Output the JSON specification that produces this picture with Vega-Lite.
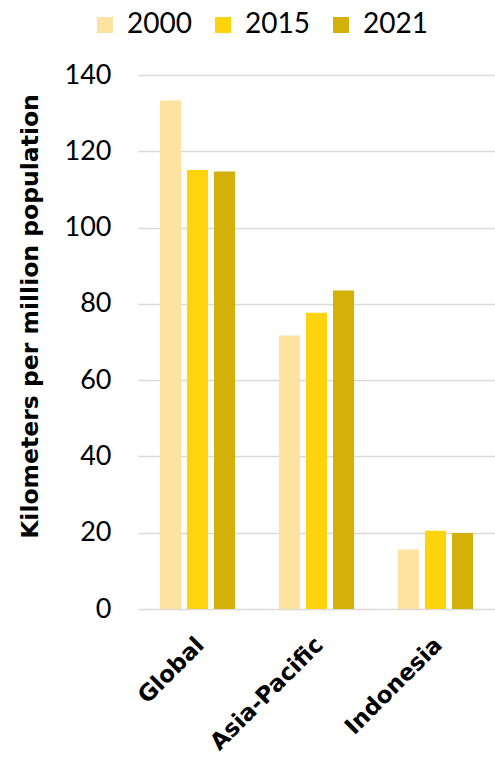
{
  "$schema": "https://vega.github.io/schema/vega-lite/v6.json",
  "autosize": "none",
  "width": 357,
  "height": 534,
  "padding": {"left": 138, "top": 75, "right": 0, "bottom": 150},
  "background": "white",
  "data": {"values": [
    {"region": "Global", "year": "2000", "value": 133.3},
    {"region": "Global", "year": "2015", "value": 115.1},
    {"region": "Global", "year": "2021", "value": 114.7},
    {"region": "Asia-Pacific", "year": "2000", "value": 71.7},
    {"region": "Asia-Pacific", "year": "2015", "value": 77.7},
    {"region": "Asia-Pacific", "year": "2021", "value": 83.5},
    {"region": "Indonesia", "year": "2000", "value": 15.6},
    {"region": "Indonesia", "year": "2015", "value": 20.5},
    {"region": "Indonesia", "year": "2021", "value": 19.9}
  ]},
  "mark": {"type": "bar"},
  "encoding": {
    "x": {
      "field": "region", "type": "nominal", "sort": ["Global", "Asia-Pacific", "Indonesia"],
      "scale": {"paddingInner": 0, "paddingOuter": 0},
      "axis": {"title": null, "labelAngle": -45, "labelAlign": "right", "labelBaseline": "middle",
               "labelFont": "DejaVu Sans", "labelFontWeight": "bold", "labelFontSize": 23, "labelColor": "black",
               "labelPadding": 32, "labelOffset": 3, "domain": false, "ticks": false, "labelLimit": 300}
    },
    "xOffset": {"field": "year", "type": "nominal", "scale": {"paddingInner": 0.22, "paddingOuter": 0.81}},
    "y": {
      "field": "value", "type": "quantitative",
      "scale": {"domain": [0, 140]},
      "axis": {"title": "Kilometers per million population", "values": [0, 20, 40, 60, 80, 100, 120, 140],
               "titleFont": "DejaVu Sans", "titleFontWeight": "bold", "titleFontSize": 23.5, "titleColor": "black",
               "titlePadding": 22, "titleY": 241,
               "labelFont": "Lato", "labelFontSize": 27, "labelColor": "black", "labelPadding": 27,
               "domain": false, "ticks": false, "grid": true, "gridColor": "#d9d9d9", "gridWidth": 1.5}
    },
    "color": {
      "field": "year", "type": "nominal",
      "scale": {"domain": ["2000", "2015", "2021"], "range": ["#fee29f", "#ffd40d", "#d4b00a"]},
      "legend": {"title": null, "orient": "none", "legendX": -47, "legendY": -64, "direction": "horizontal",
                 "padding": 0,
                 "symbolType": "square", "symbolSize": 256, "symbolStrokeWidth": 0,
                 "labelFont": "Lato", "labelFontSize": 28, "labelColor": "black", "labelOffset": 8,
                 "columnPadding": 17}
    }
  },
  "config": {"view": {"stroke": null}}
}
